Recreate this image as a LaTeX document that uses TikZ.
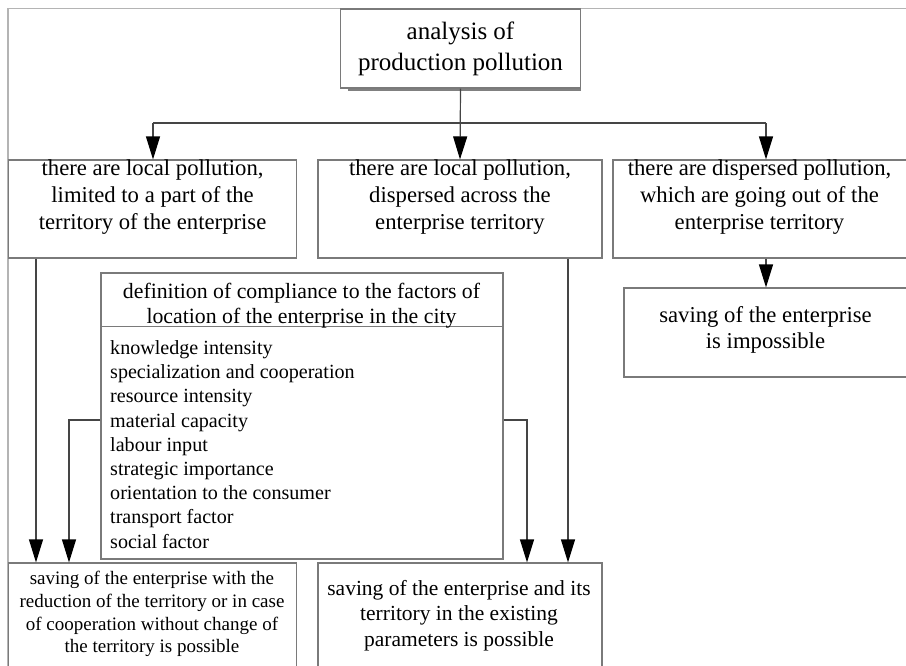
\documentclass[tikz,border=0pt]{standalone}
\usepackage{fontspec}
\setmainfont{Liberation Serif}
\usetikzlibrary{arrows.meta}
\definecolor{boxgray}{HTML}{7A7A7A}
\definecolor{conngray}{HTML}{454545}
\definecolor{framegray}{HTML}{B4B4B4}
\tikzset{
  box/.style={draw=boxgray, line width=1.2pt, inner sep=0pt, fill=white},
  conn/.style={draw=conngray, line width=1.2pt},
  arr/.style={conn, -{Triangle[length=23pt,width=14pt,black]}},
  txt/.style={inner sep=0pt, align=center, text=black},
  frame/.style={draw=framegray, line width=1.6pt},
}
\begin{document}
\begin{tikzpicture}[x=1pt,y=-1pt]
\useasboundingbox (0,0) rectangle (906,665);
\clip (0,0) rectangle (906,665);
\draw[frame] (8,670) -- (8,8.5) -- (910,8.5);

% top box
\node[box, minimum width=240pt, minimum height=79pt] (top) at (460.5,48.5) {};
\draw[draw=gray, line width=2pt] ([xshift=8pt,yshift=-1.5pt]top.south west) -- ([xshift=0pt,yshift=-1.5pt]top.south east);
\node[txt, font=\fontsize{25}{31}\selectfont] (topt) at (460.5,48.5) {analysis of\\production pollution};

% level 2
\node[box, minimum width=287.8pt, minimum height=98pt] (l2a) at (152.6,209) {};
\node[box, minimum width=284pt, minimum height=98pt] (l2b) at (460,209) {};
\node[box, minimum width=297pt, minimum height=98pt] (l2c) at (761.5,209) {};
\node[txt, font=\fontsize{22.7}{27}\selectfont] (l2at) at (152.6,197.5) {there are local pollution,\\limited to a part of the\\territory of the enterprise};
\node[txt, font=\fontsize{22.7}{27}\selectfont] (l2bt) at (460,197.5) {there are local pollution,\\dispersed across the\\enterprise territory};
\node[txt, font=\fontsize{22.7}{27}\selectfont] (l2ct) at (759.5,197.5) {there are dispersed pollution,\\which are going out of the\\enterprise territory};

% impossible box
\node[box, minimum width=286pt, minimum height=89pt] (imp) at (767,332.5) {};
\node[txt, font=\fontsize{22.7}{26.5}\selectfont] (impt) at (765.5,330) {saving of the enterprise\\is impossible};

% big box
\node[box, minimum width=402pt, minimum height=286pt] (big) at (302,416) {};
\draw[draw=boxgray, line width=1.2pt] ([yshift=-54pt]big.north west) -- ([yshift=-54pt]big.north east);
\node[txt, font=\fontsize{21.8}{25}\selectfont] (bigh) at (301.5,305.5) {definition of compliance to the factors of\\location of the enterprise in the city};
\node[txt, align=left, anchor=west, font=\fontsize{20.1}{24.2}\selectfont] (items) at (110,444.5) {knowledge intensity\\specialization and cooperation\\resource intensity\\material capacity\\labour input\\strategic importance\\orientation to the consumer\\transport factor\\social factor};

% bottom boxes
\node[box, minimum width=287.8pt, minimum height=107pt] (b1) at (152.6,616.5) {};
\node[box, minimum width=284pt, minimum height=107pt] (b2) at (460,616.5) {};
\node[txt, font=\fontsize{19}{22.8}\selectfont] (b1t) at (152,614) {saving of the enterprise with the\\reduction of the territory or in case\\of cooperation without change of\\the territory is possible};
\node[txt, font=\fontsize{21.5}{25.6}\selectfont] (b2t) at (459,615.7) {saving of the enterprise and its\\territory in the existing\\parameters is possible};

% connectors
\coordinate (busL) at (153,123);
\coordinate (busR) at (766,123);
\coordinate (xA) at (36,0);
\coordinate (xB) at (69,0);
\coordinate (xC) at (527,0);
\coordinate (xD) at (568,0);
\draw[conn] (busL) -- (busR);
\draw[arr] (top.south) -- (l2b.north);
\draw[arr] (busL) -- (busL |- l2a.north);
\draw[arr] (busR) -- (busR |- l2c.north);
\draw[arr] (l2c.south -| busR) -- (imp.north -| busR);
\draw[arr] (l2a.south -| xA) -- (b1.north -| xA);
\draw[arr] ([yshift=-4pt]big.west) -| (b1.north -| xB);
\draw[arr] ([yshift=-4pt]big.east) -| (b2.north -| xC);
\draw[arr] (l2b.south -| xD) -- (b2.north -| xD);
\end{tikzpicture}
\end{document}
